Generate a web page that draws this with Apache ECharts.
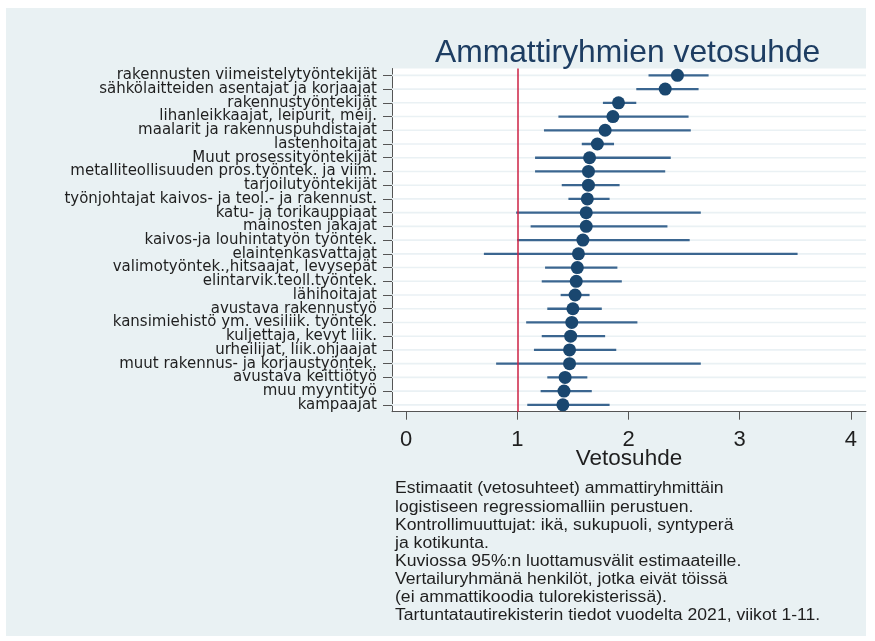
<!DOCTYPE html>
<html><head><meta charset="utf-8">
<script src="https://cdn.jsdelivr.net/npm/echarts@6/dist/echarts.min.js"></script>
<style>html,body{margin:0;padding:0;background:#fff}#c{width:875px;height:641px}</style>
</head><body><div id="c"></div>
<script>
const categories = [
  'rakennusten viimeistelytyöntekijät',
  'sähkölaitteiden asentajat ja korjaajat',
  'rakennustyöntekijät',
  'lihanleikkaajat, leipurit, meij.',
  'maalarit ja rakennuspuhdistajat',
  'lastenhoitajat',
  'Muut prosessityöntekijät',
  'metalliteollisuuden pros.työntek. ja viim.',
  'tarjoilutyöntekijät',
  'työnjohtajat kaivos- ja teol.- ja rakennust.',
  'katu- ja torikauppiaat',
  'mainosten jakajat',
  'kaivos-ja louhintatyön työntek.',
  'elaintenkasvattajat',
  'valimotyöntek.,hitsaajat, levysepät',
  'elintarvik.teoll.työntek.',
  'lähihoitajat',
  'avustava rakennustyö',
  'kansimiehistö ym. vesiliik. työntek.',
  'kuljettaja, kevyt liik.',
  'urheilijat, liik.ohjaajat',
  'muut rakennus- ja korjaustyöntek.',
  'avustava keittiötyö',
  'muu myyntityö',
  'kampaajat'
];
const estimates = [2.44, 2.33, 1.91, 1.86, 1.79, 1.72, 1.65, 1.64, 1.64, 1.63, 1.62, 1.62, 1.59, 1.55, 1.54, 1.53, 1.52, 1.50, 1.49, 1.48, 1.47, 1.47, 1.43, 1.42, 1.41];
const lower = [2.18, 2.07, 1.77, 1.37, 1.24, 1.58, 1.16, 1.16, 1.40, 1.46, 0.99, 1.12, 1.00, 0.70, 1.25, 1.22, 1.39, 1.27, 1.08, 1.22, 1.15, 0.81, 1.27, 1.21, 1.09];
const upper = [2.72, 2.63, 2.07, 2.54, 2.56, 1.87, 2.38, 2.33, 1.92, 1.83, 2.65, 2.35, 2.55, 3.52, 1.90, 1.94, 1.65, 1.76, 2.08, 1.79, 1.89, 2.65, 1.63, 1.67, 1.83];
const xTicks = [0, 1, 2, 3, 4];
const referenceValue = 1;
const titleText = 'Ammattiryhmien vetosuhde';
const xAxisTitle = 'Vetosuhde';
const notes = [
  'Estimaatit (vetosuhteet) ammattiryhmittäin',
  'logistiseen regressiomalliin perustuen.',
  'Kontrollimuuttujat: ikä, sukupuoli, syntyperä',
  'ja kotikunta.',
  'Kuviossa 95%:n luottamusvälit estimaateille.',
  'Vertailuryhmänä henkilöt, jotka eivät töissä',
  '(ei ammattikoodia tulorekisterissä).',
  'Tartuntatautirekisterin tiedot vuodelta 2021, viikot 1-11.'
];

const chart = echarts.init(document.getElementById('c'), null, {renderer: 'canvas'});
const ciData = categories.map((c, i) => [lower[i], upper[i], i]);
const gridData = categories.map((c, i) => [0, i]);
const pointData = categories.map((c, i) => [estimates[i], i]);

chart.setOption({
  backgroundColor: '#ffffff',
  animation: false,
  title: {
    text: titleText,
    left: 430, top: 32.5,
    textStyle: {fontFamily: 'Liberation Sans', fontSize: 31.8, fontWeight: 'normal', color: '#1d3d62'}
  },
  graphic: [
    {type: 'rect', z: -10, shape: {x: 6, y: 8, width: 860, height: 628}, style: {fill: '#e9f1f3'}},
    {type: 'text', z: 10, x: 395, y: 480, scaleX: 1.1,
     style: {text: notes.join('\n'), fontFamily: 'Liberation Sans', fontSize: 16, lineHeight: 18.1, fill: '#1f1f1f'}}
  ],
  grid: {left: 392, top: 68.5, width: 474, height: 343.2, show: true, backgroundColor: '#ffffff', borderWidth: 0},
  xAxis: {
    type: 'value', min: -0.126, max: 4.135,
    axisLine: {show: true, onZero: false, lineStyle: {color: '#555', width: 1}},
    axisTick: {show: true, length: 8, customValues: xTicks, lineStyle: {color: '#555'}},
    axisLabel: {customValues: xTicks, fontFamily: 'Liberation Sans', fontSize: 22, color: '#1f1f1f', margin: 17},
    splitLine: {show: false},
    name: xAxisTitle, nameLocation: 'middle', nameGap: 36, nameMoveOverlap: false,
    nameTextStyle: {fontFamily: 'Liberation Sans', fontSize: 22.5, color: '#1f1f1f'}
  },
  yAxis: {
    type: 'category', data: categories, inverse: true,
    axisLine: {show: true, onZero: false, lineStyle: {color: '#555', width: 1}},
    axisTick: {show: true, length: 9, alignWithLabel: true, interval: 0, lineStyle: {color: '#555'}},
    axisLabel: {interval: 0, fontFamily: 'DejaVu Sans', fontSize: 15, color: '#1f1f1f', margin: 15},
    splitLine: {show: false}
  },
  series: [
    {
      type: 'custom', z: 1, data: gridData, encode: {x: 0, y: 1},
      renderItem: function (params, api) {
        const cs = params.coordSys;
        const y = api.coord([0, api.value(1)])[1];
        return {type: 'line', shape: {x1: cs.x, y1: y, x2: cs.x + cs.width, y2: y},
                style: {stroke: '#eaf1f4', lineWidth: 1.6}};
      },
      markLine: {
        silent: true, symbol: 'none', label: {show: false},
        lineStyle: {color: '#cc2244', width: 1.5, type: 'solid'},
        data: [{xAxis: referenceValue}]
      }
    },
    {
      type: 'custom', z: 3, data: ciData, encode: {x: [0, 1], y: 2},
      renderItem: function (params, api) {
        const a = api.coord([api.value(0), api.value(2)]);
        const b = api.coord([api.value(1), api.value(2)]);
        return {type: 'line', shape: {x1: a[0], y1: a[1], x2: b[0], y2: b[1]},
                style: {stroke: '#3b6690', lineWidth: 2.3}};
      }
    },
    {
      type: 'scatter', z: 4, data: pointData, symbol: 'circle', symbolSize: 13,
      itemStyle: {color: '#1a476f', opacity: 1}
    }
  ]
});
</script>
</body></html>
